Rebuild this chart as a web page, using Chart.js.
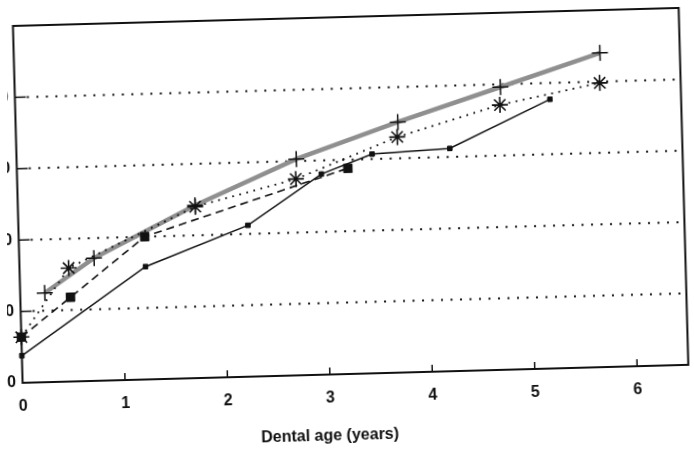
<!DOCTYPE html>
<html>
<head>
<meta charset="utf-8">
<script src="https://cdn.jsdelivr.net/npm/chart.js@4.4.1/dist/chart.umd.min.js"></script>
<style>
  body { margin: 0; background: #fff; }
  #wrap { position: relative; width: 694px; height: 450px; overflow: hidden; clip-path: inset(0 0 0 7px); }
  #myChart { position: absolute; left: 0; top: 0; transform: rotate(-1.55deg); }
</style>
</head>
<body>
<div id="wrap"><canvas id="myChart" width="694" height="450"></canvas></div>
<script>
// values
const solidAge = [0, 1.23, 2.24, 2.97, 3.47, 4.23, 5.22];
const solidVal = [3.8, 15.8, 21.2, 28.1, 30.7, 31.2, 37.7];
const dashAge = [0, 0.49, 1.23, 3.23];
const dashVal = [6.4, 11.8, 20.0, 28.8];
const starAge = [0, 0.48, 1.73, 2.72, 3.72, 4.73, 5.71];
const starVal = [6.4, 15.9, 24.0, 27.5, 33.0, 37.1, 39.8];
const plusAge = [0.24, 0.73, 1.73, 2.73, 3.73, 4.74, 5.72];
const plusVal = [12.5, 17.2, 24.2, 30.3, 35.1, 39.6, 44.0];
const xTicks = [0, 1, 2, 3, 4, 5, 6];
const yTicks = [0, 10, 20, 30, 40];
const xTitle = "Dental age (years)";

const ctx = document.getElementById("myChart");

function pts(xs, ys) {
  return xs.map((v, i) => ({ x: v, y: ys[i] }));
}

const framePlugin = {
  id: "frame",
  beforeDatasetsDraw(chart) {
    const { ctx, chartArea: a, scales } = chart;
    ctx.save();
    ctx.strokeStyle = "#111";
    // dotted grid lines
    ctx.lineWidth = 2;
    ctx.setLineDash([2, 7.5]);
    yTicks.slice(1).forEach((v) => {
      const py = scales.y.getPixelForValue(v);
      ctx.beginPath();
      ctx.moveTo(a.left + 12, py);
      ctx.lineTo(a.right, py);
      ctx.stroke();
    });
    // inward tick marks
    ctx.setLineDash([]);
    ctx.lineWidth = 1.5;
    yTicks.slice(1).forEach((v) => {
      const py = scales.y.getPixelForValue(v);
      ctx.beginPath();
      ctx.moveTo(a.left, py);
      ctx.lineTo(a.left + 11, py);
      ctx.stroke();
    });
    xTicks.slice(1).forEach((v) => {
      const px = scales.x.getPixelForValue(v);
      ctx.beginPath();
      ctx.moveTo(px, a.bottom);
      ctx.lineTo(px, a.bottom - 7);
      ctx.stroke();
    });
    ctx.restore();
  },
  afterDatasetsDraw(chart) {
    const { ctx, chartArea: a } = chart;
    ctx.save();
    ctx.strokeStyle = "#111";
    ctx.lineWidth = 2;
    ctx.strokeRect(a.left, a.top, a.right - a.left, a.bottom - a.top);
    ctx.fillStyle = "#111";
    ctx.font = "bold 16px 'Liberation Sans', Arial, sans-serif";
    ctx.textAlign = "center";
    ctx.textBaseline = "middle";
    ctx.fillText(xTitle, (a.left + a.right) / 2 - 27, a.bottom + 62);
    ctx.restore();
  },
};

new Chart(ctx, {
  type: "line",
  data: {
    datasets: [
      {
        data: pts(solidAge, solidVal),
        borderColor: "#111",
        borderWidth: 1.5,
        pointStyle: "rect",
        pointRadius: 3.2,
        pointBorderWidth: 1,
        pointBackgroundColor: "#111",
        pointBorderColor: "#111",
        order: 1,
      },
      {
        data: pts(dashAge, dashVal),
        borderColor: "#111",
        borderWidth: 1.6,
        borderDash: [8, 5],
        pointStyle: "rect",
        pointRadius: 6,
        pointBorderWidth: 1,
        pointBackgroundColor: "#111",
        pointBorderColor: "#111",
        order: 2,
      },
      {
        data: pts(starAge, starVal),
        borderColor: "#111",
        borderWidth: 1.8,
        borderDash: [1.8, 5.5],
        pointStyle: "star",
        pointRadius: 8,
        pointBorderWidth: 1.6,
        pointBorderColor: "#111",
        order: 3,
      },
      {
        data: pts(plusAge, plusVal),
        borderColor: "#8f8f8f",
        borderWidth: 4.5,
        pointStyle: "cross",
        pointRadius: 8,
        pointBorderWidth: 1.5,
        pointBorderColor: "#111",
        order: 4,
      },
    ],
  },
  options: {
    responsive: false,
    animation: false,
    devicePixelRatio: 1,
    layout: { padding: { top: 17, right: 9, left: 0, bottom: 0 } },
    elements: { line: { tension: 0, fill: false } },
    datasets: { line: { clip: false } },
    plugins: { legend: { display: false }, tooltip: { enabled: false } },
    scales: {
      x: {
        type: "linear",
        min: 0,
        max: 6.5,
        grid: { display: false, drawTicks: false },
        border: { display: false },
        afterBuildTicks: (s) => { s.ticks = xTicks.map((v) => ({ value: v })); },
        afterFit: (s) => { s.height = 76; },
        ticks: {
          padding: 14,
          color: "#111",
          font: { family: "'Liberation Sans', Arial, sans-serif", size: 16, weight: "bold" },
        },
      },
      y: {
        min: 0,
        max: 50,
        grid: { display: false, drawTicks: false },
        border: { display: false },
        afterBuildTicks: (s) => { s.ticks = yTicks.map((v) => ({ value: v })); },
        afterFit: (s) => { s.width = 17; },
        ticks: {
          padding: 6.5,
          color: "#111",
          font: { family: "'Liberation Sans', Arial, sans-serif", size: 16, weight: "bold" },
        },
      },
    },
  },
  plugins: [framePlugin],
});
</script>
</body>
</html>
